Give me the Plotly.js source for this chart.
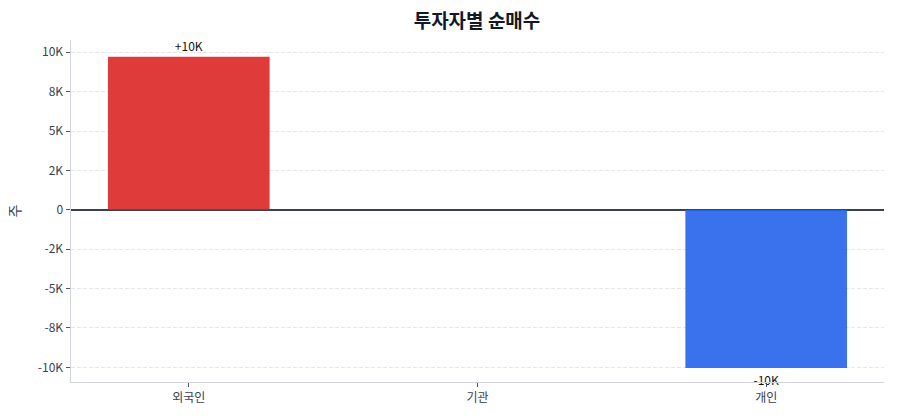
<!DOCTYPE html>
<html>
<head>
<meta charset="utf-8">
<script src="https://cdn.plot.ly/plotly-3.0.1.min.js"></script>
<style>
  html, body { margin: 0; padding: 0; background: #fff; }
  #chart { width: 900px; height: 420px; }
</style>
</head>
<body>
<div id="chart"></div>
<script>
// Net buying by investor type
const investors = ['외국인', '기관', '개인'];
const netBuy = [9720, 0, -10040];
const barLabels = ['+10K', '', '-10K'];
const barColors = ['rgba(220,38,38,0.9)', 'rgba(37,99,235,0.9)', 'rgba(37,99,235,0.9)'];

// Y axis ticks
const yTickVals = [-10000, -7500, -5000, -2500, 0, 2500, 5000, 7500, 10000];
const yTickText = ['-10K', '-8K', '-5K', '-2K', '0', '2K', '5K', '8K', '10K'];

const font = '"Noto Sans CJK KR", "Noto Sans", sans-serif';

const trace = {
  x: [0, 1, 2],
  y: netBuy,
  type: 'bar',
  width: 0.56,
  marker: {
    color: barColors,
    line: { width: 0 },
  },
  text: barLabels,
  textposition: 'outside',
  cliponaxis: false,
  textfont: { family: font, size: 12, color: '#111111' },
  hoverinfo: 'none',
};

const layout = {
  width: 900,
  height: 420,
  margin: { l: 71, r: 16, t: 40, b: 38 },
  paper_bgcolor: '#ffffff',
  plot_bgcolor: '#ffffff',
  font: { family: font, size: 12, color: '#374151' },
  showlegend: false,
  title: {
    text: '<b>투자자별 순매수</b>',
    font: { family: font, size: 19, color: '#111827' },
    x: 0.53,
    xanchor: 'center',
    y: 0.948,
    yanchor: 'middle',
  },
  xaxis: {
    range: [-0.408, 2.408],
    tickvals: [0, 1, 2],
    ticktext: investors,
    showgrid: false,
    zeroline: false,
    showline: true,
    linecolor: '#d1d5db',
    linewidth: 1.2,
    ticks: 'outside',
    ticklen: 4,
    tickcolor: '#4b5563',
    tickfont: { family: font, size: 12, color: '#374151' },
  },
  yaxis: {
    range: [-10930, 10780],
    tickvals: yTickVals,
    ticktext: yTickText,
    showgrid: true,
    gridcolor: '#e5e7eb',
    griddash: '4px,2px',
    gridwidth: 1,
    zeroline: true,
    zerolinecolor: '#374151',
    zerolinewidth: 1.5,
    showline: true,
    linecolor: '#d1d5db',
    linewidth: 1.5,
    ticks: 'outside',
    ticklen: 4,
    tickcolor: '#4b5563',
    tickfont: { family: font, size: 12, color: '#374151' },
    title: {
      text: '주',
      font: { family: font, size: 14, color: '#374151' },
      standoff: 14,
    },
  },
};

Plotly.newPlot('chart', [trace], layout, { staticPlot: true, responsive: false });
</script>
</body>
</html>
